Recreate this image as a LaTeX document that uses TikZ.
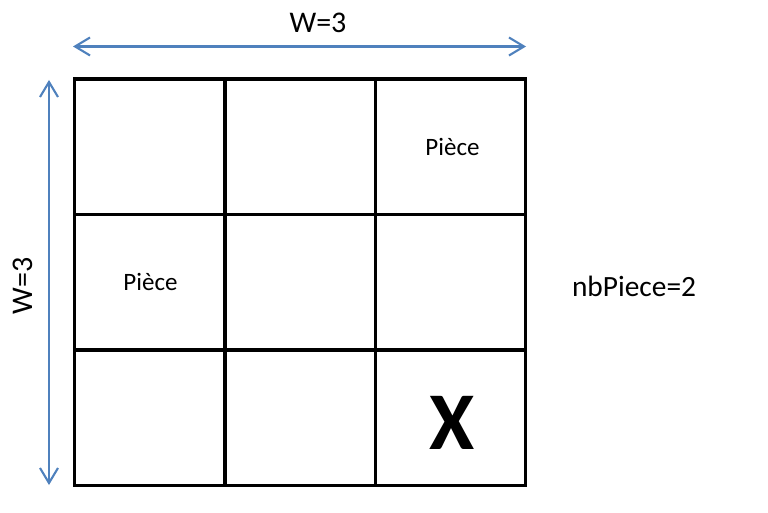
\documentclass[tikz,border=0pt]{standalone}
\usepackage{fontspec}
\setmainfont{Carlito}
\usetikzlibrary{arrows.meta}
\definecolor{dimblue}{HTML}{4F81BD}
\tikzset{
  cell/.style={draw=black, line width=3.2pt, minimum width=150.4pt, minimum height=135.5pt, inner sep=0pt, outer sep=0pt},
  dimarrow/.style={draw=dimblue, line width=2.1pt, {Straight Barb[length=15pt,width=18pt,line width=2.1pt]}-{Straight Barb[length=15pt,width=18pt,line width=2.1pt]}},
  lbl/.style={inner sep=0pt, outer sep=0pt, text=black},
}
\begin{document}
\begin{tikzpicture}[x=1pt,y=-1pt]
\useasboundingbox (0,0) rectangle (768,513);
% grid cells
\foreach \r in {0,1,2}{
  \foreach \c in {0,1,2}{
    \node[cell] (c\r\c) at ({74.7+150.27*\c+75.13},{79+135.5*\r+67.75}) {};
  }
}
% dimension arrows
\coordinate (tL) at (73,46.5);
\coordinate (tR) at (526,46.5);
\draw[dimarrow] (tL) -- (tR);
\coordinate (lT) at (49,80);
\coordinate (lB) at (49,485);
\draw[dimarrow] (lT) -- (lB);
% labels
\node[lbl, anchor=base] (wtop) at (318,33) {\fontsize{30}{36}\selectfont W=3};
\node[lbl, anchor=base, rotate=90] (wleft) at (32,286) {\fontsize{30}{36}\selectfont W=3};
\node[lbl, anchor=base west] (nb) at (572,296) {\fontsize{29.4}{35}\selectfont nbPiece=2};
\node[lbl, anchor=base] (p1) at (452.5,156) {\fontsize{25}{30}\selectfont Pièce};
\node[lbl, anchor=base] (p2) at (150.5,290.7) {\fontsize{25}{30}\selectfont Pièce};
\node[lbl, anchor=base] (xm) at (452,449) {\fontsize{82}{90}\selectfont\bfseries X};
\end{tikzpicture}
\end{document}
